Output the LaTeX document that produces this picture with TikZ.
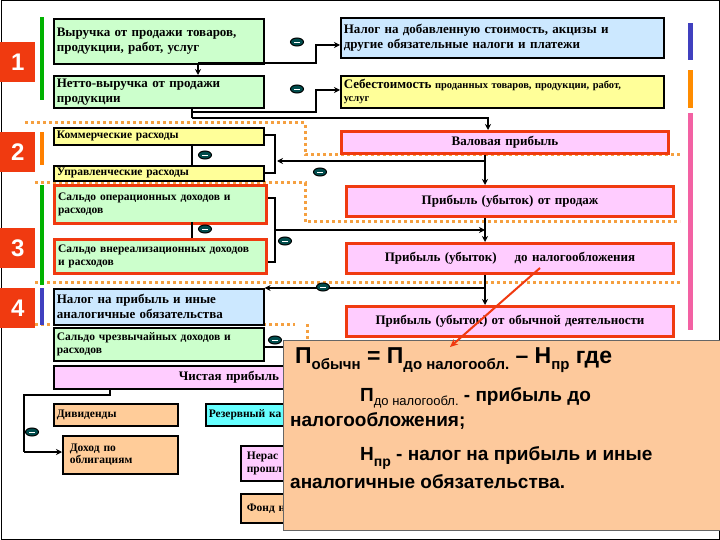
\documentclass[tikz,border=0pt]{standalone}
\usepackage{fontspec}
\setmainfont{Liberation Serif}
\newfontfamily\sansf{Liberation Sans}
\usetikzlibrary{shapes.geometric,arrows.meta}
\definecolor{gr}{HTML}{CCFFCC}
\definecolor{lb}{HTML}{CCE8FF}
\definecolor{ye}{HTML}{FFFF99}
\definecolor{pk}{HTML}{FFCCFF}
\definecolor{og}{HTML}{FFCC99}
\definecolor{cy}{HTML}{66FFFF}
\definecolor{rd}{HTML}{F03A10}
\definecolor{dot}{HTML}{F5A040}
\definecolor{ov}{HTML}{FDC99C}
\newcommand{\lsb}[1]{\raisebox{-0.5ex}{\fontsize{15}{15}\selectfont #1}}
\tikzset{
 box/.style={draw=black,line width=1.6pt,anchor=north west,inner sep=2pt,align=left,font=\fontsize{11.5}{12.5}\selectfont\bfseries},
 big/.style={font=\fontsize{13}{15}\selectfont\bfseries},
 rbox/.style={box,draw=rd,line width=3pt,align=center},
 badge/.style={fill=rd,text=white,font=\sansf\fontsize{24}{24}\selectfont\bfseries,minimum width=35pt,minimum height=40pt,anchor=north west,inner sep=0pt},
 minus/.style={ellipse,draw=black,line width=1pt,fill=teal!60!black,minimum width=13pt,minimum height=8pt,inner sep=0pt,
   path picture={\draw[white,line width=0.8pt] ([xshift=-3pt]path picture bounding box.center) -- ([xshift=3pt]path picture bounding box.center);}},
 con/.style={line width=1.6pt},
 arr/.style={con,-{Stealth[length=6pt,width=6pt]}},
 dl/.style={dot,line width=3pt,dash pattern=on 3pt off 3pt},
 ft/.style={anchor=west,inner sep=0pt,font=\sansf\fontsize{19}{21}\selectfont\bfseries},
}
\begin{document}
\begin{tikzpicture}[x=1pt,y=-1pt]
\useasboundingbox (0,0) rectangle (720,540);
\fill[white] (0,0) rectangle (720,540);
\draw[line width=1pt] (1,1) rectangle (719,539);
% dotted separators
\draw[dl] (25,123) -- (305,123) -- (305,155) -- (680,155);
\draw[dl] (35,183) -- (305,183) -- (305,222) -- (680,222);
\draw[dl] (35,282) -- (680,282);
\draw[dl] (35,324) -- (295,324);
\draw[dl] (307,324) -- (307,345);
% side bars
\fill[green!70!black] (40,17) rectangle (44,100);
\fill[orange] (40,132) rectangle (44,165);
\fill[green!70!black] (40,185) rectangle (44,285);
\fill[blue!50!gray] (40,288) rectangle (44,325);
\fill[blue!50!gray] (688,23) rectangle (693,60);
\fill[orange!90!yellow] (688,70) rectangle (693,108);
\fill[magenta!50!pink] (688,113) rectangle (693,330);
% badges
\node[badge] (b1) at (0,42) {1};
\node[badge] (b2) at (0,132) {2};
\node[badge] (b3) at (0,228) {3};
\node[badge] (b4) at (0,288) {4};
% boxes
\node[box,big,fill=gr,minimum width=210pt,minimum height=45pt,text width=204pt] (A) at (53,18) {Выручка от продажи товаров,\\продукции, работ, услуг};
\node[box,big,fill=lb,minimum width=323pt,minimum height=40pt,text width=317pt] (B) at (340,17) {Налог на добавленную стоимость, акцизы и\\другие обязательные налоги и платежи};
\node[box,big,fill=gr,minimum width=210pt,minimum height=32pt,text width=204pt] (C) at (53,75) {Нетто-выручка от продажи\\продукции};
\node[box,fill=ye,minimum width=323pt,minimum height=32pt,text width=317pt,font=\fontsize{10.5}{13}\selectfont\bfseries] (D) at (340,75) {{\fontsize{13}{13}\selectfont Себестоимость} проданных товаров, продукции, работ,\\услуг};
\node[box,fill=ye,minimum width=210pt,minimum height=17pt,text width=204pt,inner sep=1pt] (E) at (53,127) {Коммерческие расходы};
\node[rbox,big,fill=pk,minimum width=327pt,minimum height=22pt,text width=320pt,inner sep=1pt] (F) at (340,130) {Валовая прибыль};
\node[box,fill=ye,minimum width=210pt,minimum height=15pt,text width=204pt,inner sep=1pt] (G) at (53,165) {Управленческие расходы};
\node[rbox,fill=gr,minimum width=212pt,minimum height=38pt,text width=205pt,align=left] (H) at (53,184) {Сальдо операционных доходов и\\расходов};
\node[rbox,big,fill=pk,minimum width=327pt,minimum height=30pt,text width=320pt] (I) at (345,185) {Прибыль (убыток) от продаж};
\node[rbox,fill=gr,minimum width=212pt,minimum height=34pt,text width=205pt,align=left] (J) at (53,238) {Сальдо внереализационных доходов\\и расходов};
\node[rbox,big,fill=pk,minimum width=327pt,minimum height=30pt,text width=320pt] (K) at (345,242) {Прибыль (убыток)\hspace{18pt}до налогообложения};
\node[box,big,fill=lb,minimum width=210pt,minimum height=36pt,text width=204pt] (L) at (53,288) {Налог на прибыль и иные\\аналогичные обязательства};
\node[box,fill=gr,minimum width=210pt,minimum height=33pt,text width=204pt] (M) at (53,327) {Сальдо чрезвычайных доходов и\\расходов};
\node[rbox,big,fill=pk,minimum width=327pt,minimum height=30pt,text width=320pt] (N) at (345,305) {Прибыль (убыток) от обычной деятельности};
\node[box,big,fill=pk,minimum width=380pt,minimum height=23pt,text width=374pt,align=left] (O) at (53,365) {\hspace{122pt}Чистая прибыль};
\node[box,fill=og,minimum width=124pt,minimum height=22pt,text width=118pt] (P) at (53,403) {Дивиденды};
\node[box,fill=og,minimum width=115pt,minimum height=38pt,text width=109pt] (Q) at (62,435) {\hspace{4pt}Доход по\\\hspace{4pt}облигациям};
\node[box,fill=cy,minimum width=130pt,minimum height=22pt,text width=124pt] (R) at (205,403) {Резервный ка};
\node[box,fill=pk,minimum width=90pt,minimum height=35pt,text width=84pt] (S) at (240,445) {\hspace{3pt}Нерас\\\hspace{3pt}прошл};
\node[box,fill=og,minimum width=90pt,minimum height=29pt,text width=84pt] (T) at (240,493) {\hspace{3pt}Фонд н};
% connectors
\draw[arr] (198,63) -- (C.north -| 198,0);
\draw[arr] (198,63) -- (316,63) -- (316,45) -- (B.west |- 0,45);
\draw[con] (192,107) -- (192,118);
\draw[arr] (192,112) -- (316,112) -- (316,90) -- (D.west |- 0,90);
\draw[arr] (192,118) -- (488,118) -- (F.north -| 488,0);
\draw[con] (E.east |- 0,135) -- (275,135) -- (275,173) -- (G.east |- 0,173);
\draw[con] (192,144) -- (192,165);
\draw[arr] (485,161) -- (277,161);
\draw[arr] (F.south -| 485,0) -- (I.north -| 485,0);
\draw[con] (H.east |- 0,198) -- (275,198) -- (275,262) -- (J.east |- 0,262);
\draw[con] (192,222) -- (192,238);
\draw[arr] (275,230) -- (485,230);
\draw[arr] (I.south -| 485,0) -- (K.north -| 485,0);
\draw[arr] (K.south -| 485,0) -- (N.north -| 485,0);
\draw[arr] (485,288) -- (L.east |- 0,288);
\draw[con] (M.east |- 0,347) -- (300,347);
\draw[con] (110,388) -- (110,395) -- (24,395) -- (24,452);
\draw[arr] (24,452) -- (Q.west |- 0,452);
% minus signs
\node[minus] (m1) at (297,42) {};
\node[minus] (m2) at (297,89) {};
\node[minus] (m3) at (205,155) {};
\node[minus] (m4) at (320,172) {};
\node[minus] (m5) at (205,229) {};
\node[minus] (m6) at (285,241) {};
\node[minus] (m7) at (323,287) {};
\node[minus] (m8) at (275,340) {};
\node[minus] (m9) at (32,432) {};
% overlay
\node[draw=black!60,line width=0.6pt,fill=ov,minimum width=437pt,minimum height=190pt,anchor=north west,inner sep=0pt] (ovl) at (283,340) {};
\node[ft,font=\sansf\fontsize{23}{25}\selectfont\bfseries] (f1) at (295,360) {П\lsb{обычн} = П\lsb{до налогообл.} – Н\lsb{пр}\ где};
\node[ft] (f2) at (360,398) {П{\fontsize{13}{13}\selectfont\raisebox{-0.6ex}{\mdseries до налогообл.}} - прибыль до};
\node[ft] (f3) at (290,421) {налогообложения;};
\node[ft] (f4) at (360,458) {Н\raisebox{-0.6ex}{\fontsize{14}{14}\selectfont пр} - налог на прибыль и иные};
\node[ft] (f5) at (290,482) {аналогичные обязательства.};
\coordinate (rs) at (540,268);
\coordinate (re) at (450,347);
\draw[rd,line width=2pt,-{Stealth[length=8pt,width=7pt]}] (rs) -- (re);
\end{tikzpicture}
\end{document}
